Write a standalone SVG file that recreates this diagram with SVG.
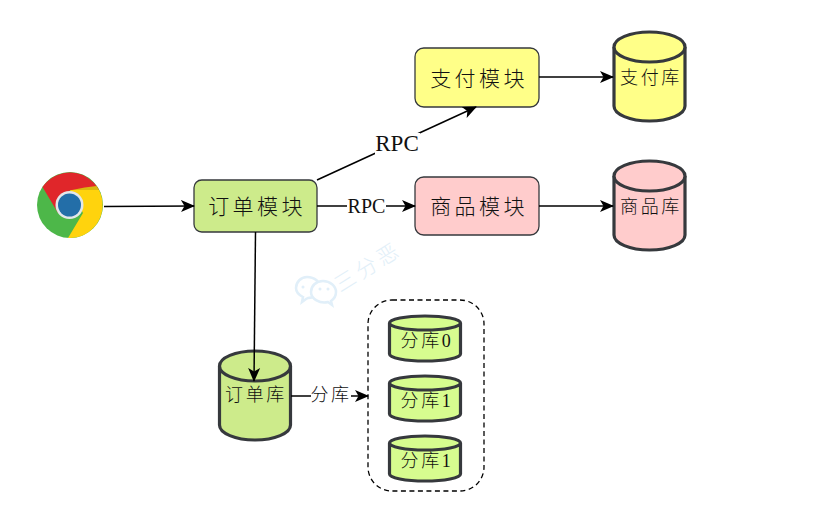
<svg xmlns="http://www.w3.org/2000/svg" width="818" height="518" viewBox="0 0 818 518">
<style>
text{font-family:"Liberation Serif","Noto Sans CJK SC",serif;fill:#111;text-anchor:middle}
.zh{font-family:"Noto Sans CJK SC","Liberation Serif",sans-serif;font-weight:300}
.box{stroke:#36393d;stroke-width:1.3}
.cyl{stroke:#36393d;stroke-width:3.2}
.lbl{font-size:21px;letter-spacing:3.4px}
.db{font-size:18px;letter-spacing:2.6px}
.edge{fill:none;stroke:#000;stroke-width:1.5;marker-end:url(#a)}
.bg{fill:#fff}
.g{fill:#cdeb8b}.y{fill:#ffff88}.r{fill:#ffcccc}.l{fill:#d7fc8f}
</style>
<defs>
<marker id="a" markerUnits="userSpaceOnUse" markerWidth="16" markerHeight="14" refX="13" refY="7" orient="auto">
<path d="M0 1 L14 7 L0 13 L3.500 7Z" fill="#000"/>
</marker>
</defs>
<rect width="818" height="518" fill="#fff"/>
<g id="watermark" opacity="0.85">
<g fill="#fff" stroke="#dcedf8" stroke-width="2.5">
<path d="M307 277c8 0 13 5 13 11s-5 10-12 10l-2 1-4 3 1-5c-4-2-7-5-7-9 0-6 5-11 11-11z"/>
<path d="M323 281c7 0 13 5 13 11 0 4-2 7-5 9l1 4-4-3c-8 2-17-3-17-10 0-6 5-11 12-11z"/>
</g>
<g fill="#dcedf8"><circle cx="303" cy="287" r="1.500"/><circle cx="320" cy="289" r="1.500"/><circle cx="328" cy="289" r="1.500"/></g>
<text class="zh" x="372" y="273" transform="rotate(-32 372 273)" style="font-size:21px;fill:#dcedf8;letter-spacing:4px">三分恶</text>
</g>
<g id="chrome">
<circle cx="70" cy="205" r="33" fill="#4db749"/>
<path d="M42.500 187A33 33 0 0 1 99 190L70 190L58 213Z" fill="#e0262a"/>
<path d="M99 190A33 33 0 0 1 68 238L83 213L70 190Z" fill="#ffd30d"/>
<path d="M70 190H99L96.500 186 Q85 187 72 190Z" fill="#d9b70f"/>
<circle cx="69.500" cy="205" r="14" fill="#e3e7ea"/>
<circle cx="69.500" cy="205" r="11.500" fill="#236ea8"/>
</g>
<g id="order"><rect class="box g" x="194" y="180" width="123" height="52" rx="7.800"/><text class="zh lbl" x="257" y="214">订单模块</text></g>
<g id="pay"><rect class="box y" x="415" y="48" width="124" height="59" rx="8.800"/><text class="zh lbl" x="479" y="86">支付模块</text></g>
<g id="goods"><rect class="box r" x="415" y="177" width="124" height="58" rx="8.700"/><text class="zh lbl" x="479" y="214">商品模块</text></g>
<g id="paydb"><path class="cyl y" d="M614 47a35.500 15 0 0 1 71 0v59a35.500 15 0 0 1-71 0Z"/><path class="cyl y" d="M614 47a35.500 15 0 0 0 71 0"/><text class="zh db" x="651" y="84">支付库</text></g>
<g id="goodsdb"><path class="cyl r" d="M614 176a35.500 15 0 0 1 71 0v59a35.500 15 0 0 1-71 0Z"/><path class="cyl r" d="M614 176a35.500 15 0 0 0 71 0"/><text class="zh db" x="651" y="213">商品库</text></g>
<g id="orderdb"><path class="cyl g" d="M219.500 366a35.500 15 0 0 1 71 0v59a35.500 15 0 0 1-71 0Z"/><path class="cyl g" d="M219.500 366a35.500 15 0 0 0 71 0"/><text class="zh db" x="256" y="401">订单库</text></g>
<g id="shards"><rect x="368" y="300" width="116" height="191" rx="24" fill="none" stroke="#000" stroke-width="1.3" stroke-dasharray="5 3.500"/></g>
<g id="shard0"><path class="cyl l" d="M389.500 323a35.500 7 0 0 1 71 0v31a35.500 7 0 0 1-71 0Z"/><path class="cyl l" d="M389.500 323a35.500 7 0 0 0 71 0"/><text class="zh db" x="427" y="347">分库<tspan font-family="Liberation Serif">0</tspan></text></g>
<g id="shard1"><path class="cyl l" d="M389.500 383a35.500 7 0 0 1 71 0v31a35.500 7 0 0 1-71 0Z"/><path class="cyl l" d="M389.500 383a35.500 7 0 0 0 71 0"/><text class="zh db" x="427" y="407">分库<tspan font-family="Liberation Serif">1</tspan></text></g>
<g id="shard2"><path class="cyl l" d="M389.500 443a35.500 7 0 0 1 71 0v31a35.500 7 0 0 1-71 0Z"/><path class="cyl l" d="M389.500 443a35.500 7 0 0 0 71 0"/><text class="zh db" x="427" y="467">分库<tspan font-family="Liberation Serif">1</tspan></text></g>
<g id="connectors">
<path class="edge" d="M104 206.500L194 206"/>
<path class="edge" d="M317 180L476 107"/>
<path class="edge" d="M317 206L415 206"/>
<path class="edge" d="M255.500 232L254 381"/>
<path class="edge" d="M539 77L613 77"/>
<path class="edge" d="M539 206L613 206"/>
<path class="edge" d="M291 396L368 396"/>
<rect class="bg" x="375" y="133" width="45" height="22"/>
<text x="397" y="151" style="font-size:23px">RPC</text>
<rect class="bg" x="347" y="197" width="39" height="19"/>
<text x="366.500" y="213" style="font-size:20px">RPC</text>
<rect class="bg" x="311" y="385" width="40" height="21"/>
<text class="zh" x="331" y="401" style="font-size:18px;letter-spacing:2.500px">分库</text>
</g>
</svg>
